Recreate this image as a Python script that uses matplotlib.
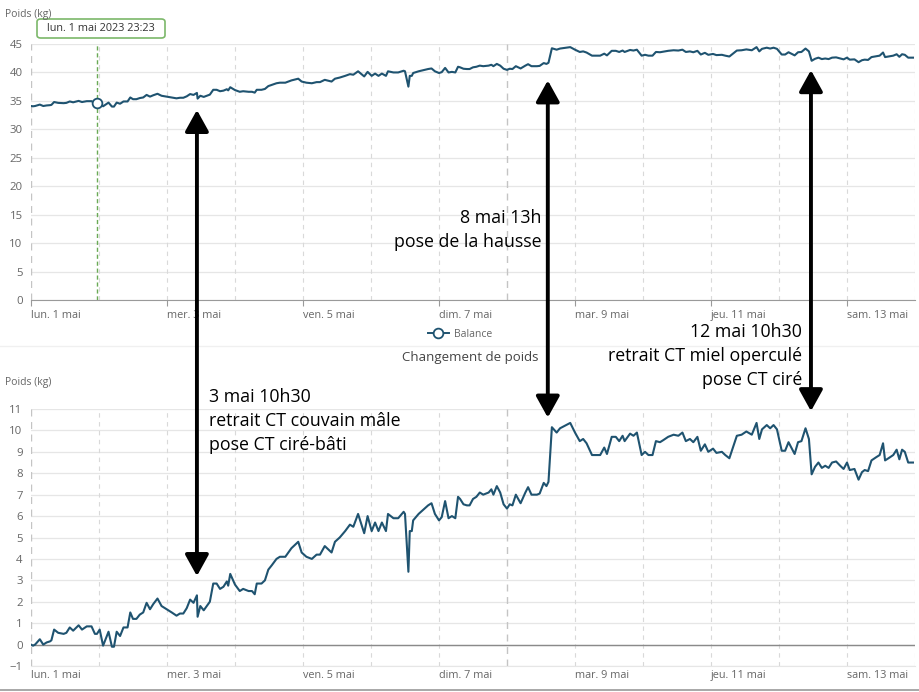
import numpy as np
import matplotlib
matplotlib.use("Agg")
import matplotlib.pyplot as plt
from matplotlib.patches import ConnectionPatch, FancyBboxPatch
from matplotlib.lines import Line2D

plt.rcParams['font.family'] = ['Open Sans', 'DejaVu Sans']

# days since lun. 1 mai 2023 00:00
jours = [0.00, 0.03, 0.06, 0.13, 0.16, 0.18, 0.23, 0.28, 0.30, 0.34, 0.40, 0.48, 0.52, 0.57,
         0.62, 0.70, 0.75, 0.82, 0.89, 0.94, 0.97, 1.01, 1.06, 1.14, 1.19, 1.22, 1.26, 1.31,
         1.36, 1.42, 1.46, 1.50, 1.55, 1.60, 1.65, 1.70, 1.75, 1.80, 1.86, 1.92, 1.97, 2.07,
         2.14, 2.19, 2.24, 2.29, 2.34, 2.39, 2.44, 2.45, 2.49, 2.54, 2.63, 2.68, 2.73, 2.78,
         2.83, 2.88, 2.90, 2.93, 3.00, 3.07, 3.12, 3.20, 3.25, 3.29, 3.32, 3.39, 3.44, 3.49,
         3.54, 3.61, 3.66, 3.74, 3.83, 3.93, 3.98, 4.05, 4.13, 4.20, 4.25, 4.32, 4.42, 4.47,
         4.54, 4.62, 4.69, 4.74, 4.81, 4.90, 4.95, 5.01, 5.06, 5.11, 5.16, 5.22, 5.25, 5.33,
         5.40, 5.48, 5.50, 5.55, 5.57, 5.60, 5.62, 5.70, 5.77, 5.84, 5.89, 5.94, 6.00, 6.04,
         6.09, 6.14, 6.19, 6.24, 6.28, 6.31, 6.36, 6.41, 6.45, 6.50, 6.55, 6.60, 6.65, 6.73,
         6.77, 6.80, 6.85, 6.90, 6.95, 7.00, 7.04, 7.08, 7.13, 7.20, 7.27, 7.31, 7.36, 7.44,
         7.48, 7.54, 7.58, 7.61, 7.66, 7.73, 7.78, 7.93, 8.00, 8.07, 8.12, 8.17, 8.25, 8.32,
         8.37, 8.43, 8.47, 8.54, 8.60, 8.65, 8.70, 8.73, 8.81, 8.86, 8.91, 8.98, 9.03, 9.08,
         9.14, 9.19, 9.25, 9.30, 9.37, 9.45, 9.52, 9.58, 9.63, 9.69, 9.74, 9.80, 9.85, 9.91,
         9.96, 10.03, 10.08, 10.16, 10.21, 10.27, 10.38, 10.45, 10.52, 10.60, 10.67, 10.71,
         10.75, 10.82, 10.87, 10.92, 10.97, 11.04, 11.09, 11.14, 11.23, 11.28, 11.33, 11.39,
         11.44, 11.48, 11.53, 11.58, 11.63, 11.68, 11.73, 11.78, 11.84, 11.90, 11.95, 12.00,
         12.04, 12.11, 12.17, 12.22, 12.26, 12.31, 12.36, 12.43, 12.48, 12.53, 12.56, 12.61,
         12.68, 12.73, 12.77, 12.81, 12.85, 12.90, 12.97]

# weight change (kg) since the start
changement = [0.0, -0.05, 0.0, 0.25, 0.1, 0.0, 0.1, 0.15, 0.2, 0.7, 0.55, 0.5, 0.55, 0.8,
              0.65, 0.9, 0.7, 0.85, 0.85, 0.5, 0.5, 0.7, -0.05, 0.6, -0.1, -0.1, 0.6, 0.4,
              0.8, 0.8, 1.5, 1.2, 1.2, 1.4, 1.5, 1.95, 1.65, 1.9, 2.15, 1.8, 1.7, 1.5,
              1.35, 1.45, 1.45, 1.7, 2.1, 1.95, 2.3, 1.3, 1.8, 1.6, 2.0, 2.85, 2.85, 2.6,
              2.7, 2.95, 2.75, 3.3, 2.8, 2.5, 2.6, 2.5, 2.5, 2.35, 2.85, 2.85, 3.0, 3.5,
              3.7, 4.0, 4.1, 4.1, 4.5, 4.8, 4.3, 4.1, 4.0, 4.2, 4.2, 4.6, 4.3, 4.8,
              5.0, 5.3, 5.6, 5.5, 6.1, 5.2, 6.0, 5.3, 5.7, 5.3, 5.7, 5.3, 6.1, 5.9,
              5.9, 6.2, 6.1, 3.4, 5.3, 5.3, 5.8, 6.1, 6.3, 6.5, 6.6, 6.1, 5.8, 5.95,
              6.7, 5.9, 6.0, 5.9, 6.9, 6.8, 6.55, 6.5, 6.5, 6.8, 6.9, 7.1, 7.0, 7.1,
              7.25, 7.0, 7.4, 7.1, 6.55, 6.35, 6.55, 6.5, 7.0, 6.6, 7.1, 7.35, 7.0, 7.0,
              7.05, 7.55, 7.4, 7.6, 10.15, 9.9, 10.1, 10.35, 9.9, 9.5, 9.6, 9.4, 8.85, 8.85,
              8.85, 9.2, 8.9, 9.7, 9.7, 9.5, 9.75, 9.5, 9.85, 9.75, 9.9, 8.85, 9.0, 8.85,
              8.85, 9.5, 9.45, 9.55, 9.7, 9.8, 9.75, 9.9, 9.5, 9.6, 9.45, 9.7, 9.05, 9.35,
              9.0, 9.15, 8.95, 9.0, 8.85, 8.7, 9.75, 9.8, 9.95, 9.8, 10.35, 9.6,
              10.05, 10.25, 10.1, 10.25, 10.05, 9.05, 9.05, 9.45, 8.9, 9.45, 9.5, 10.1,
              9.6, 7.95, 8.3, 8.5, 8.25, 8.35, 8.25, 8.5, 8.55, 8.35, 8.2, 8.5,
              8.15, 8.2, 7.7, 8.05, 8.15, 8.1, 8.6, 8.75, 8.85, 9.4, 8.6, 8.7,
              8.85, 9.1, 8.65, 9.1, 9.0, 8.5, 8.5]

poids_initial = 34.1  # kg, hive weight at lun. 1 mai 00:00
balance = poids_initial + np.array(changement)

jours_ticks = [0, 2, 4, 6, 8, 10, 12]
jours_labels = ["lun. 1 mai", "mer. 3 mai", "ven. 5 mai", "dim. 7 mai",
                "mar. 9 mai", "jeu. 11 mai", "sam. 13 mai"]
semaines = [0, 7]          # Monday lines
curseur = 23 + 23 / 60     # hours, tooltip position
curseur_label = "lun. 1 mai 2023 23:23"

evenements = [2.44, 7.60, 11.47]
textes = ["3 mai 10h30\nretrait CT couvain mâle\npose CT ciré-bâti",
          "8 mai 13h\npose de la hausse",
          "12 mai 10h30\nretrait CT miel operculé\npose CT ciré"]

LINE = "#1f5370"
GRID = "#e6e6e6"
TXT = "#666666"

W, H = 919, 692
fig = plt.figure(figsize=(W / 100, H / 100), dpi=100)


def px(x, y):
    return x / W, 1 - y / H


def style_axis(ax, ylim, yticks):
    ax.set_xlim(0, 13)
    ax.set_ylim(*ylim)
    ax.set_yticks(yticks)
    ax.grid(axis="y", color=GRID, lw=0.9)
    for d in range(0, 14):
        if d in semaines:
            ax.axvline(d, color="#c4c4c4", lw=1.0, ls=(0, (5, 4)), zorder=1)
        else:
            ax.axvline(d, color="#d9d9d9", lw=0.8, ls=(0, (4, 4)), zorder=1)
    for s in ["top", "right", "left"]:
        ax.spines[s].set_visible(False)
    ax.spines["bottom"].set_color(GRID)
    ax.set_xticks(jours_ticks)
    ax.set_xticklabels(jours_labels, ha="left", fontsize=7.8, color=TXT)
    ax.tick_params(axis="y", length=0, labelsize=8.2, labelcolor=TXT, pad=6)
    ax.tick_params(axis="x", length=0, pad=3)
    ax.set_axisbelow(True)


# top: balance weight
l1, b1 = px(31, 300)
ax1 = fig.add_axes([l1, b1, 884 / W, 256 / H])
style_axis(ax1, (0, 45), np.arange(0, 46, 5))
ax1.spines["bottom"].set_color("#9a9a9a")
ax1.tick_params(axis="x", length=4, color="#9a9a9a")
ax1.plot(jours, balance, color=LINE, lw=1.5, zorder=3)
ax1.axvline(curseur / 24, color="#6aaa55", lw=1.0, ls=(0, (3, 2)), zorder=2)
ax1.plot([curseur / 24], [np.interp(curseur / 24, jours, balance)], "o", ms=7,
         mfc="white", mec=LINE, mew=1.3, zorder=4)

# bottom: weight change
l2, b2 = px(31, 666)
ax2 = fig.add_axes([l2, b2, 884 / W, 257 / H])
style_axis(ax2, (-1, 11), np.arange(-1, 12, 1))
ax2.axhline(0, color="#8a8a8a", lw=1.0, zorder=2)
ax2.plot(jours, changement, color=LINE, lw=1.5, zorder=3)

# axis titles and texts
fig.text(*px(5, 15), "Poids (kg)", fontsize=7.5, color=TXT, va="center")
fig.text(*px(5, 382), "Poids (kg)", fontsize=7.5, color=TXT, va="center")
fig.text(*px(470, 357), "Changement de poids", fontsize=9.5, color="#444444",
         ha="center", va="center")

# tooltip
tx, ty = px(37, 38)
tw, th = 128 / W, 19 / H
fig.patches.append(FancyBboxPatch((tx, ty), tw, th, boxstyle="round,pad=0,rounding_size=0.004",
                                  transform=fig.transFigure, fc="white", ec="#7cb86a", lw=1.2))
fig.text(tx + tw / 2, ty + th / 2, curseur_label, fontsize=7.8, color="#333333",
         ha="center", va="center")

# legend
leg_handle = Line2D([], [], color=LINE, lw=1.4, marker="o", ms=7, mfc="white", mec=LINE, mew=1.3)
fig.legend([leg_handle], ["Balance"], loc="center", bbox_to_anchor=px(460, 334),
           frameon=False, fontsize=7.5, labelcolor=TXT, handlelength=2.0, handletextpad=0.5)

# separator
fig.add_artist(Line2D([0, 1], [1 - 346 / H] * 2, color="#f0f0f0", lw=1, transform=fig.transFigure))
fig.add_artist(Line2D([0, 1], [1 - 690 / H] * 2, color="#9a9a9a", lw=1.2, transform=fig.transFigure))

# event arrows across both panels
haut = [33.4, 38.6, 40.4]
bas = [3.2, 10.6, 10.9]
for j, yh, yb in zip(evenements, haut, bas):
    cp = ConnectionPatch(xyA=(j, yh), coordsA=ax1.transData, xyB=(j, yb), coordsB=ax2.transData,
                         arrowstyle="<|-|>,head_length=0.65,head_width=0.36", mutation_scale=20,
                         color="black", lw=2.8, zorder=10)
    fig.add_artist(cp)

fs = 12.8
fig.text(*px(209, 421), textes[0], fontsize=fs, ha="left", va="center", linespacing=1.42)
fig.text(*px(541, 230), textes[1], fontsize=fs, ha="right", va="center", linespacing=1.42,
         multialignment="right")
fig.text(*px(802, 356), textes[2], fontsize=fs, ha="right", va="center", linespacing=1.42,
         multialignment="right")

fig.savefig("out.png", dpi=100)
